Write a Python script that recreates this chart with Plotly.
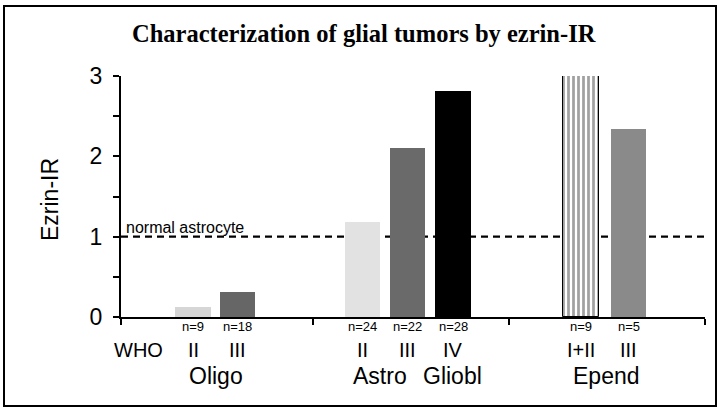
import plotly.graph_objects as go

# ---- data ----
categories = ["Oligo II", "Oligo III", "Astro II", "Astro III", "Gliobl IV", "Epend I+II", "Epend III"]
who_grades = ["II", "III", "II", "III", "IV", "I+II", "III"]
n_labels = ["n=9", "n=18", "n=24", "n=22", "n=28", "n=9", "n=5"]
ezrin_ir = [0.12, 0.31, 1.18, 2.10, 2.81, 3.0, 2.34]
groups = ["Oligo", "Astro", "Gliobl", "Epend"]
normal_astrocyte = 1.0
y_ticks = [0, 1, 2, 3]

# ---- layout helpers (pixel geometry) ----
W, H = 720, 410
L, R, T, B = 121, 705, 76, 317          # plot area in pixels
def px2x(px):      # pixel -> x data units (0..13)
    return (px - L) / (R - L) * 13.0
def px2py(py):     # pixel -> paper y
    return (B - py) / (B - T)
def px2px(px):     # pixel -> paper x
    return (px - L) / (R - L)

bar_px = [193, 237.5, 362.5, 407.5, 453, 581, 628.5]
bar_x = [px2x(p) for p in bar_px]
group_px = [216, 380, 452, 606]
sep_px = [121, 313, 509, 705]

colors = ["#d6d6d6", "#666666", "#e2e2e2", "#6a6a6a", "#000000", "#ffffff", "#8a8a8a"]
patterns = ["", "", "", "", "", "|", ""]
line_w = [0, 0, 0, 0, 0, 1, 0]

fig = go.Figure()

# dashed reference line (behind bars)
fig.add_shape(type="line", xref="paper", yref="y", x0=0, x1=1,
              y0=normal_astrocyte, y1=normal_astrocyte,
              line=dict(color="black", width=2.2, dash="7px,5px"), layer="below")

fig.add_trace(go.Bar(
    x=bar_x, y=ezrin_ir, width=0.8,
    marker=dict(color=colors,
                pattern=dict(shape=patterns, fgcolor="black", bgcolor="white",
                             size=5, solidity=0.55, fillmode="overlay"),
                line=dict(width=line_w, color="black")),
    hovertext=categories, showlegend=False,
))

annotations = []
# n labels
for x, t in zip(bar_x, n_labels):
    annotations.append(dict(x=x, y=px2py(326.5), xref="x", yref="paper", text=t,
                            showarrow=False, font=dict(size=13, family="Arial, Liberation Sans", color="black"),
                            xanchor="center", yanchor="middle"))
# WHO grades
for x, t in zip(bar_x, who_grades):
    annotations.append(dict(x=x, y=px2py(350), xref="x", yref="paper", text=t,
                            showarrow=False, font=dict(size=20, family="Arial, Liberation Sans", color="black"),
                            xanchor="center", yanchor="middle"))
annotations.append(dict(x=px2px(138), y=px2py(350), xref="paper", yref="paper", text="WHO",
                        showarrow=False, font=dict(size=20, family="Arial, Liberation Sans", color="black"),
                        xanchor="center", yanchor="middle"))
# group names
for gp, t in zip(group_px, groups):
    annotations.append(dict(x=px2px(gp), y=px2py(376), xref="paper", yref="paper", text=t,
                            showarrow=False, font=dict(size=23, family="Arial, Liberation Sans", color="black"),
                            xanchor="center", yanchor="middle"))
# normal astrocyte label
annotations.append(dict(x=px2px(124), y=normal_astrocyte, xref="paper", yref="y",
                        text="normal astrocyte", showarrow=False,
                        font=dict(size=16, family="Arial, Liberation Sans", color="black"),
                        xanchor="left", yanchor="bottom", yshift=-1))
# y-axis title
annotations.append(dict(x=px2px(50), y=px2py(200), xref="paper", yref="paper", text="Ezrin-IR",
                        showarrow=False, textangle=-90,
                        font=dict(size=23, family="Arial, Liberation Sans", color="black"),
                        xanchor="center", yanchor="middle"))
# title
annotations.append(dict(x=px2px(364), y=px2py(34), xref="paper", yref="paper",
                        text="<b>Characterization of glial tumors by ezrin-IR</b>", showarrow=False,
                        font=dict(size=24.5, family="Liberation Serif, Times New Roman, serif", color="black"),
                        xanchor="center", yanchor="middle"))

# outer frame
fig.add_shape(type="rect", xref="paper", yref="paper",
              x0=px2px(4), x1=px2px(716), y0=px2py(406), y1=px2py(6),
              line=dict(color="black", width=2), fillcolor="rgba(0,0,0,0)")

fig.update_layout(
    width=W, height=H,
    margin=dict(l=L, r=W - R, t=T, b=H - B),
    paper_bgcolor="white", plot_bgcolor="white",
    annotations=annotations,
    bargap=0,
    xaxis=dict(range=[0, 13], showgrid=False, zeroline=False,
               showline=True, linecolor="black", linewidth=2,
               tickmode="array", tickvals=[px2x(p) for p in sep_px], ticktext=["", "", "", ""],
               ticks="outside", ticklen=6, tickwidth=1.5, tickcolor="black"),
    yaxis=dict(range=[0, 3], showgrid=False, zeroline=False,
               showline=True, linecolor="black", linewidth=2,
               tickmode="array", tickvals=y_ticks, ticktext=[str(v) for v in y_ticks],
               ticks="outside", ticklen=6, tickwidth=1.5, tickcolor="black",
               ticklabelstandoff=6,
               tickfont=dict(size=23, family="Arial, Liberation Sans", color="black"),
               minor=dict(tickmode="array", tickvals=[0.5, 1.5, 2.5], ticks="outside",
                          ticklen=6, tickwidth=1.5, tickcolor="black")),
)

fig.write_html("out.html", config={"displayModeBar": False},
               post_script="document.body.style.margin='0px';document.body.style.overflow='hidden';")
